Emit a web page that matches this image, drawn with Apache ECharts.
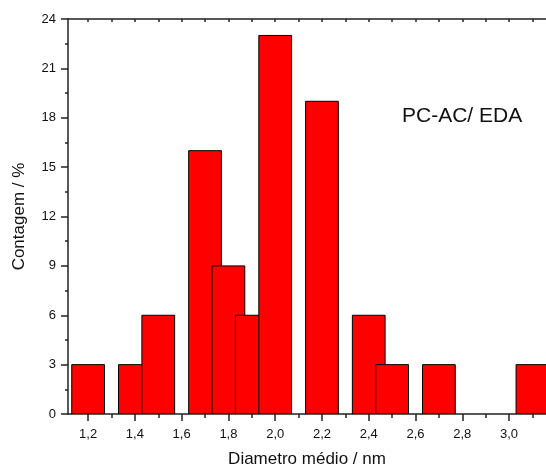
<!DOCTYPE html>
<html>
<head>
<meta charset="utf-8">
<script src="https://cdn.jsdelivr.net/npm/echarts@6/dist/echarts.min.js"></script>
<style>
html,body{margin:0;padding:0;background:#fff;}
#chart{width:546px;height:468px;}
</style>
</head>
<body>
<div id="chart"></div>
<script>
const diameters = [1.2, 1.4, 1.5, 1.7, 1.8, 1.9, 2.0, 2.2, 2.4, 2.5, 2.7, 3.1];
const counts = [3, 3, 6, 16, 9, 6, 23, 19, 6, 3, 3, 3];
const binWidth = 0.14;
const xMajorTicks = [1.2, 1.4, 1.6, 1.8, 2.0, 2.2, 2.4, 2.6, 2.8, 3.0];
const xMinorTicks = [1.3, 1.5, 1.7, 1.9, 2.1, 2.3, 2.5, 2.7, 2.9, 3.1];
const xTopTicks = [1.2, 1.3, 1.4, 1.5, 1.6, 1.7, 1.8, 1.9, 2.0, 2.1, 2.2, 2.3, 2.4, 2.5, 2.6, 2.7, 2.8, 2.9, 3.0, 3.1];
const xTitle = 'Diametro médio / nm';
const yTitle = 'Contagem / %';
const sampleLabel = 'PC-AC/ EDA';

const FONT = '"Liberation Sans", Arial, sans-serif';
const AX = '#222';
const xMin = 1.114, xMax = 3.158;

const chart = echarts.init(document.getElementById('chart'), null, {renderer: 'canvas'});
const data = diameters.map((d, i) => [d, counts[i]]);

chart.setOption({
  animation: false,
  backgroundColor: '#fff',
  grid: {left: 68, top: 19, right: 0, bottom: 54, containLabel: false, outerBoundsMode: 'none'},
  xAxis: [
    {
      type: 'value', min: xMin, max: xMax, position: 'bottom',
      name: xTitle, nameLocation: 'middle', nameGap: 37,
      nameTextStyle: {fontFamily: FONT, fontSize: 17, color: '#111'},
      axisLine: {show: true, onZero: false, lineStyle: {color: AX, width: 1.5}},
      axisTick: {show: true, inside: false, length: 7, customValues: xMajorTicks, lineStyle: {color: AX, width: 1.5}},
      axisLabel: {show: true, customValues: xMajorTicks, margin: 14, fontFamily: FONT, fontSize: 13, color: '#111',
        formatter: v => v.toFixed(1).replace('.', ',')},
      splitLine: {show: false}
    },
    {
      type: 'value', min: xMin, max: xMax, position: 'bottom',
      axisLine: {show: false, onZero: false},
      axisTick: {show: true, inside: false, length: 4, customValues: xMinorTicks, lineStyle: {color: AX, width: 1.5}},
      axisLabel: {show: false},
      splitLine: {show: false}
    },
    {
      type: 'value', min: xMin, max: xMax, position: 'top',
      axisLine: {show: true, onZero: false, lineStyle: {color: AX, width: 1.5}},
      axisTick: {show: true, inside: true, length: 3, customValues: xTopTicks, lineStyle: {color: AX, width: 1.5}},
      axisLabel: {show: false},
      splitLine: {show: false}
    }
  ],
  yAxis: [
    {
      type: 'value', min: 0, max: 24, interval: 3, position: 'left',
      name: yTitle, nameLocation: 'middle', nameGap: 40, nameRotate: 90,
      nameTextStyle: {fontFamily: FONT, fontSize: 17, color: '#111'},
      axisLine: {show: true, onZero: false, lineStyle: {color: AX, width: 1.5}},
      axisTick: {show: true, inside: false, length: 7, lineStyle: {color: AX, width: 1.5}},
      minorTick: {show: true, splitNumber: 2, length: 3, lineStyle: {color: AX, width: 1.5}},
      axisLabel: {margin: 12, fontFamily: FONT, fontSize: 13, color: '#111'},
      splitLine: {show: false}
    }
  ],
  graphic: [
    {type: 'text', left: 402, top: 106,
     style: {text: sampleLabel, font: '21px ' + FONT, fill: '#111'}}
  ],
  series: [
    {
      type: 'custom',
      xAxisIndex: 0, yAxisIndex: 0,
      clip: true,
      data: data,
      renderItem: function (params, api) {
        const x = api.value(0), y = api.value(1);
        const p1 = api.coord([x - binWidth / 2, y]);
        const p2 = api.coord([x + binWidth / 2, 0]);
        return {
          type: 'rect',
          shape: {x: p1[0], y: p1[1], width: p2[0] - p1[0], height: p2[1] - p1[1]},
          style: {fill: '#ff0000', stroke: '#000', lineWidth: 1}
        };
      }
    }
  ]
});
</script>
</body>
</html>
